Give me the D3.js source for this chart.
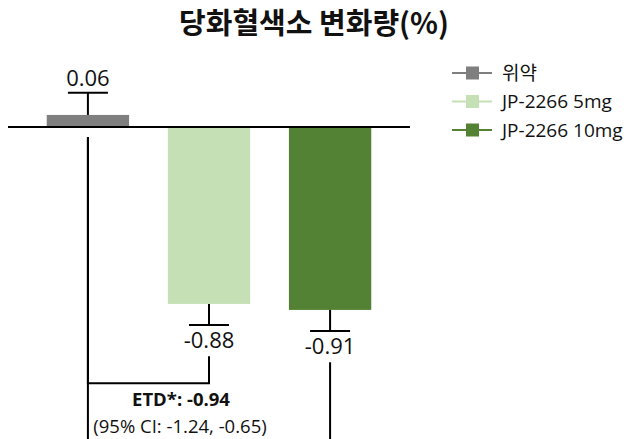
<!DOCTYPE html>
<html>
<head>
<meta charset="utf-8">
<script src="https://cdn.jsdelivr.net/npm/d3@7"></script>
<style>
  body { margin: 0; background: #fff; }
  svg { display: block; }
</style>
</head>
<body>
<script>
"use strict";

// data
const groups = ["위약", "JP-2266 5mg", "JP-2266 10mg"];
const values = [0.06, -0.88, -0.91];
const errors = [0.11, 0.105, 0.105];
const valueLabels = ["0.06", "-0.88", "-0.91"];
const colors = ["#7f7f7f", "#c5e0b4", "#548235"];
const etdLines = ["ETD*: -0.94", "(95% CI: -1.24, -0.65)"];
// comparison brackets vs placebo, in data units (second one runs off the bottom)
const brackets = [
  {from: 0, to: 1, level: -1.275, start: -1.14},
  {from: 0, to: 2, level: -1.7, start: -1.17}
];

const width = 628, height = 439;
const latin = "'Open Sans', sans-serif";
const kor = "'Noto Sans CJK KR', sans-serif";

const svg = d3.select("body").append("svg")
    .attr("width", width)
    .attr("height", height);

const x = d3.scaleBand()
    .domain(groups)
    .range([8, 410])
    .padding(0.32);

const y = d3.scaleLinear()
    .domain([0, -1])
    .range([127, 328]);

// title
svg.append("text")
    .attr("x", 314)
    .attr("y", 34)
    .attr("text-anchor", "middle")
    .style("font-family", kor)
    .style("font-weight", "bold")
    .style("font-size", "29px")
    .attr("fill", "#111")
    .text("당화혈색소 변화량(%)");

// bars
svg.selectAll(".bar")
    .data(groups)
    .enter()
    .append("rect")
    .attr("class", "bar")
    .attr("x", d => x(d))
    .attr("width", x.bandwidth())
    .attr("y", (d, i) => y(Math.max(0, values[i])))
    .attr("height", (d, i) => Math.abs(y(values[i]) - y(0)))
    .attr("fill", (d, i) => colors[i]);

// zero line
svg.append("line")
    .attr("x1", 8).attr("x2", 410)
    .attr("y1", y(0)).attr("y2", y(0))
    .attr("stroke", "#000")
    .attr("stroke-width", 2);

// error bars (one side, away from zero)
const cx = d => x(d) + x.bandwidth() / 2;
const tip = i => values[i] + Math.sign(values[i]) * errors[i];
const err = svg.selectAll(".err")
    .data(groups)
    .enter()
    .append("g")
    .attr("class", "err");

err.append("line")
    .attr("x1", cx).attr("x2", cx)
    .attr("y1", (d, i) => y(values[i]))
    .attr("y2", (d, i) => y(tip(i)))
    .attr("stroke", "#000").attr("stroke-width", 2);

err.append("line")
    .attr("x1", d => cx(d) - 20).attr("x2", d => cx(d) + 20)
    .attr("y1", (d, i) => y(tip(i)))
    .attr("y2", (d, i) => y(tip(i)))
    .attr("stroke", "#000").attr("stroke-width", 2);

err.append("text")
    .attr("x", cx)
    .attr("y", (d, i) => values[i] >= 0 ? y(tip(i)) - 7 : y(tip(i)) + 23)
    .attr("text-anchor", "middle")
    .style("font-family", latin)
    .style("font-size", "22px")
    .attr("fill", "#111")
    .text((d, i) => valueLabels[i]);

// brackets
brackets.forEach(b => {
    let x0 = cx(groups[b.from]), x1 = cx(groups[b.to]);
    let path = d3.path();
    path.moveTo(x0, y(-0.05));
    path.lineTo(x0, y(b.level));
    path.lineTo(x1, y(b.level));
    path.lineTo(x1, y(b.start));
    svg.append("path")
        .attr("d", path.toString())
        .attr("fill", "none")
        .attr("stroke", "#000")
        .attr("stroke-width", 2);
});

// ETD annotation
svg.append("text")
    .attr("x", 181)
    .attr("y", 406)
    .attr("text-anchor", "middle")
    .style("font-family", latin)
    .style("font-weight", "bold")
    .style("font-size", "18.5px")
    .attr("fill", "#111")
    .text(etdLines[0]);

svg.append("text")
    .attr("x", 180)
    .attr("y", 433)
    .attr("text-anchor", "middle")
    .style("font-family", latin)
    .style("font-size", "18.5px")
    .attr("fill", "#111")
    .text(etdLines[1]);

// legend
const legend = svg.selectAll(".legend")
    .data(groups)
    .enter()
    .append("g")
    .attr("class", "legend")
    .attr("transform", (d, i) => "translate(452," + (73 + i * 28.5) + ")");

legend.append("line")
    .attr("x1", 0).attr("x2", 40)
    .attr("stroke", (d, i) => colors[i])
    .attr("stroke-width", 2);

legend.append("rect")
    .attr("x", 14).attr("y", -6.5)
    .attr("width", 13).attr("height", 13)
    .attr("fill", (d, i) => colors[i]);

legend.append("text")
    .attr("x", 50)
    .attr("dy", "0.35em")
    .style("font-family", (d, i) => i === 0 ? kor : latin)
    .style("font-size", "19px")
    .attr("fill", "#111")
    .text(d => d);
</script>
</body>
</html>
